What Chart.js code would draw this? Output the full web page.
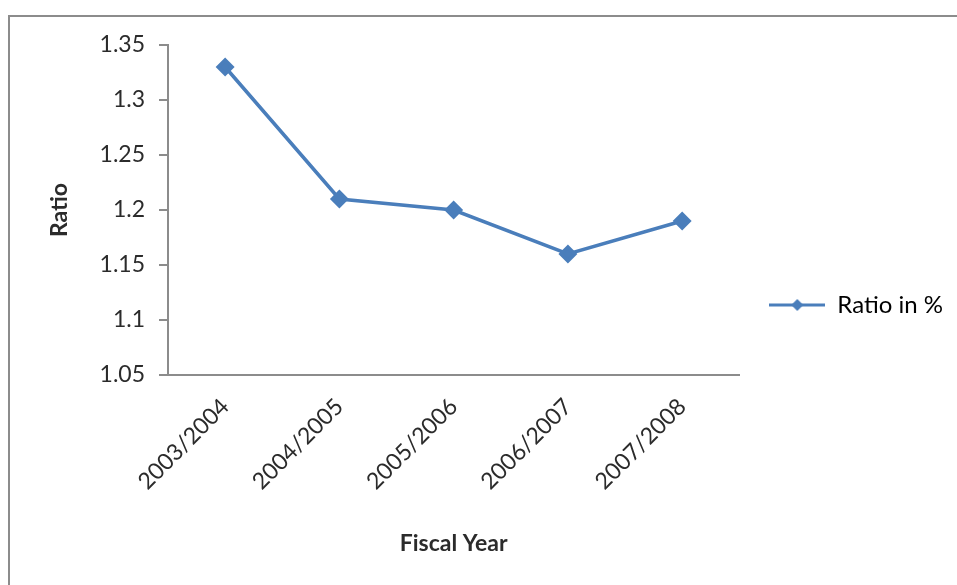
<!DOCTYPE html>
<html>
<head>
<meta charset="utf-8">
<script src="https://cdn.jsdelivr.net/npm/chart.js@4/dist/chart.umd.min.js"></script>
<style>
  body { margin: 0; background: #fff; overflow: hidden; }
  #wrap { position: relative; width: 957px; height: 585px; overflow: hidden; }
  #frame { position: absolute; left: 8px; top: 15px; width: 960px; height: 600px;
           border-left: 2px solid #8c8c8c; border-top: 2px solid #8c8c8c; pointer-events: none; }
</style>
</head>
<body>
<div id="wrap">
  <canvas id="canvas" width="957" height="585"></canvas>
  <div id="frame"></div>
</div>
<script>
const years = ['2003/2004', '2004/2005', '2005/2006', '2006/2007', '2007/2008'];
const ratio = [1.33, 1.21, 1.20, 1.16, 1.19];
const seriesName = 'Ratio in %';

const blue = '#4a7ebb';
const textColor = '#2b2b2b';
const font = 'Lato, "Open Sans", sans-serif';

// legend marker: line with a diamond in the middle
function legendMarker() {
  const c = document.createElement('canvas');
  c.width = 56;
  c.height = 14;
  const g = c.getContext('2d');
  g.strokeStyle = blue;
  g.lineWidth = 3;
  g.beginPath();
  g.moveTo(0, 7);
  g.lineTo(56, 7);
  g.stroke();
  g.fillStyle = blue;
  g.beginPath();
  g.moveTo(28, 1);
  g.lineTo(34, 7);
  g.lineTo(28, 13);
  g.lineTo(22, 7);
  g.closePath();
  g.fill();
  return c;
}

const ctx = document.getElementById('canvas');

new Chart(ctx, {
  type: 'line',
  data: {
    labels: years,
    datasets: [{
      label: seriesName,
      data: ratio,
      borderColor: blue,
      backgroundColor: blue,
      borderWidth: 3.5,
      pointStyle: 'rectRot',
      pointRadius: 7,
      pointHoverRadius: 7,
      tension: 0
    }]
  },
  options: {
    responsive: false,
    animation: false,
    layout: {
      padding: { left: 20, top: 45, right: 4, bottom: 20 }
    },
    plugins: {
      legend: {
        position: 'right',
        labels: {
          usePointStyle: true,
          pointStyleWidth: 56,
          color: textColor,
          font: { family: font, size: 24 },
          padding: 30,
          generateLabels: function(chart) {
            return [{
              text: seriesName,
              pointStyle: legendMarker(),
              fillStyle: blue,
              strokeStyle: blue,
              lineWidth: 0,
              datasetIndex: 0
            }];
          }
        }
      },
      tooltip: { enabled: false }
    },
    scales: {
      x: {
        offset: true,
        afterFit: function(scale) { scale.height = 190; },
        grid: { display: false, drawTicks: false },
        border: { color: '#8c8c8c', width: 2 },
        ticks: {
          color: textColor,
          font: { family: font, size: 23 },
          minRotation: 45,
          maxRotation: 45,
          padding: 18
        },
        title: {
          display: true,
          text: 'Fiscal Year',
          color: textColor,
          font: { family: font, size: 23, weight: 'bold' },
          padding: { top: 0, bottom: 8 }
        }
      },
      y: {
        min: 1.05,
        max: 1.35,
        afterFit: function(scale) { scale.width = 148; },
        grid: { drawOnChartArea: false, drawTicks: true, tickLength: 9, color: '#8c8c8c', lineWidth: 2 },
        border: { color: '#8c8c8c', width: 2 },
        ticks: {
          stepSize: 0.05,
          color: textColor,
          font: { family: font, size: 23 },
          padding: 14,
          callback: function(val) {
            return parseFloat(val.toFixed(2)).toString();
          }
        },
        title: {
          display: true,
          text: 'Ratio',
          color: textColor,
          font: { family: font, size: 23, weight: 'bold' },
          padding: { top: 26, bottom: 0 }
        }
      }
    }
  }
});
</script>
</body>
</html>
